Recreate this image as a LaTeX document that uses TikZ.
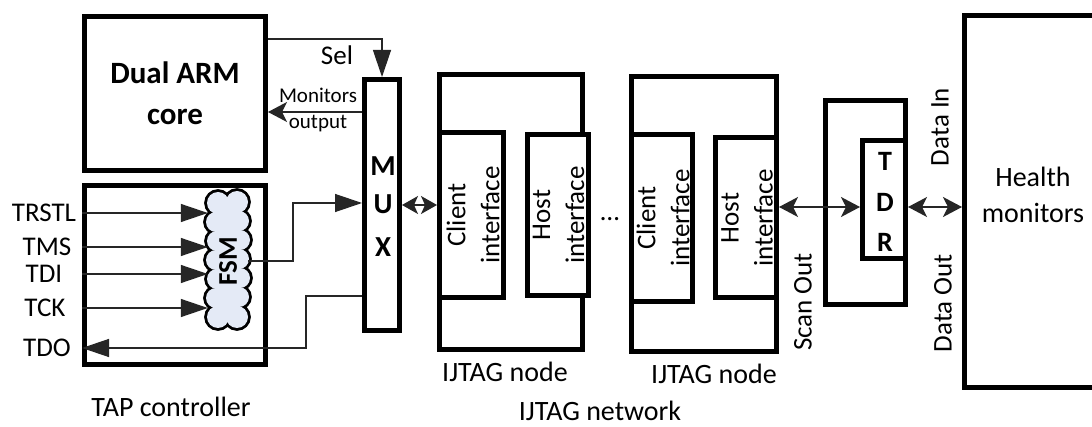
\documentclass[tikz,border=0pt]{standalone}
\usepackage{fontspec}
\setmainfont{Carlito}
\usetikzlibrary{arrows.meta}
\definecolor{cloudfill}{HTML}{E4EAF6}
\tikzset{
  box/.style={draw, line width=5pt, fill=white, inner sep=0pt},
  wire/.style={line width=1.3pt, draw=black!85},
  txt/.style={inner sep=0pt, font=\fontsize{27}{30}\selectfont, align=center},
  btxt/.style={inner sep=0pt, font=\fontsize{28}{30}\selectfont\bfseries, align=center},
  itxt/.style={inner sep=0pt, rotate=90, align=center, font=\fontsize{27}{34}\selectfont},
  tri/.tip={Triangle[length=27pt,width=18pt]},
  stl/.tip={Stealth[length=19pt,width=20pt,inset=5pt]},
  sstl/.tip={Stealth[length=16pt,width=18pt,inset=4pt]},
}
\begin{document}
\begin{tikzpicture}[x=1pt,y=-1pt]
\fill[white] (0,0) rectangle (1092,427);
\useasboundingbox (0,0) rectangle (1092,427);

% boxes
\node[box, minimum width=181pt, minimum height=154pt, font=\fontsize{31}{41}\selectfont\bfseries, align=center] (arm) at (175,93.5) {Dual ARM\\core};
\node[box, minimum width=181pt, minimum height=179pt] (tap) at (175,275) {};
\node[box, minimum width=35pt, minimum height=251pt] (mux) at (382,205) {};
\node[btxt, font=\fontsize{29}{30}\selectfont\bfseries] (muxm) at (383,166) {M};
\node[btxt, font=\fontsize{29}{30}\selectfont\bfseries] (muxu) at (383,204) {U};
\node[btxt, font=\fontsize{29}{30}\selectfont\bfseries] (muxx) at (383,247) {X};

% IJTAG node 1
\node[box, minimum width=143pt, minimum height=275pt] (n1) at (511,212) {};
\node[box, minimum width=64pt, minimum height=165pt] (n1c) at (471.5,215) {};
\node[box, minimum width=61pt, minimum height=161pt] (n1h) at (558,215) {};
\node[itxt] (n1ct) at (473,215) {Client\\interface};
\node[itxt] (n1ht) at (558.5,215) {Host\\interface};

% dots
\node[txt] (dots) at (610,219) {…};

% IJTAG node 2
\node[box, minimum width=145pt, minimum height=275pt] (n2) at (704,214) {};
\node[box, minimum width=61pt, minimum height=167pt] (n2c) at (662,218) {};
\node[box, minimum width=61pt, minimum height=160pt] (n2h) at (746,217.5) {};
\node[itxt] (n2ct) at (663,218) {Client\\interface};
\node[itxt] (n2ht) at (747,218) {Host\\interface};

% TDR
\node[box, minimum width=80pt, minimum height=204pt] (tdro) at (865.5,202.5) {};
\node[box, minimum width=43pt, minimum height=118pt] (tdri) at (884,199.5) {};
\node[btxt] (tdrt) at (885,161) {T};
\node[btxt] (tdrd) at (885,202) {D};
\node[btxt] (tdrr) at (885,242) {R};

% Health monitors
\node[box, minimum width=160pt, minimum height=372pt] (hm) at (1044.5,201.5) {};
\node[txt, font=\fontsize{28}{36}\selectfont] (hmt) at (1033,195) {Health\\monitors};

% FSM cloud (outline of a union of puffs)
\foreach \x/\y/\r in {218/203/11, 237/202/11, 216/222/10, 217/241/10, 216/260/10, 217/279/10, 216/298/10, 218/317/11,
                      239/221/10, 240/240/10, 239/259/10, 240/278/10, 239/297/10, 237/317/11}
  \draw[line width=5.6pt, fill=cloudfill] (\x,\y) circle[radius=\r];
\foreach \x/\y/\r in {218/203/11, 237/202/11, 216/222/10, 217/241/10, 216/260/10, 217/279/10, 216/298/10, 218/317/11,
                      239/221/10, 240/240/10, 239/259/10, 240/278/10, 239/297/10, 237/317/11}
  \fill[cloudfill] (\x,\y) circle[radius=\r];
\fill[cloudfill] (217,203) rectangle (239,317);
\node[inner sep=0pt, minimum width=40pt, minimum height=136pt] (fsm) at (228,261) {};
\node[btxt, font=\fontsize{27}{30}\selectfont\bfseries, rotate=90] (fsmt) at (228,261) {FSM};

% TAP labels
\node[txt] (ltrstl) at (44,213) {TRSTL};
\node[txt] (ltms) at (47,247) {TMS};
\node[txt] (ltdi) at (44,274) {TDI};
\node[txt] (ltck) at (45,308) {TCK};
\node[txt] (ltdo) at (47,348) {TDO};

\draw[wire,-tri] (ltrstl -| tap.west) -- (ltrstl -| fsm.west);
\draw[wire,-tri] (ltms -| tap.west) -- (ltms -| fsm.west);
\draw[wire,-tri] (ltdi -| tap.west) -- (ltdi -| fsm.west);
\draw[wire,-tri] (ltck -| tap.west) -- (ltck -| fsm.west);

% FSM to MUX
\draw[wire,-tri] (fsm.east) -- (293,261) |- (mux.west |- 0,203);
% MUX to TDO
\draw[wire,-tri] (mux.west |- 0,296) -| (306,348) -- (ltdo -| tap.west);

% Sel
\draw[wire,-tri] (arm.east |- 0,39) -| (mux.north);
\node[txt] (sel) at (337,55) {Sel};
% Monitors output
\draw[wire,-stl] (mux.west |- 0,112) -- (arm.east |- 0,112);
\node[txt, font=\fontsize{21}{26}\selectfont] (mo) at (318,110) {Monitors\\output};

% MUX <-> node1
\draw[wire,sstl-sstl] (mux.east |- 0,205) -- (n1c.west |- 0,205);
% Scan out
\draw[wire,stl-stl] (n2h.east |- 0,207) -- (tdri.west |- 0,207);
% Data
\draw[wire,stl-stl] (tdri.east |- 0,207) -- (hm.west |- 0,207);

\node[txt, rotate=90] (scanout) at (803,302) {Scan Out};
\node[txt, rotate=90] (datain) at (940,127) {Data In};
\node[txt, rotate=90] (dataout) at (943,303) {Data Out};

% bottom labels
\node[txt, font=\fontsize{28}{30}\selectfont] (tapl) at (171,407) {TAP controller};
\node[txt, font=\fontsize{28}{30}\selectfont] (n1l) at (505,372) {IJTAG node};
\node[txt, font=\fontsize{28}{30}\selectfont] (n2l) at (714,374) {IJTAG node};
\node[txt, font=\fontsize{28}{30}\selectfont] (netl) at (600,411) {IJTAG network};
\end{tikzpicture}
\end{document}
